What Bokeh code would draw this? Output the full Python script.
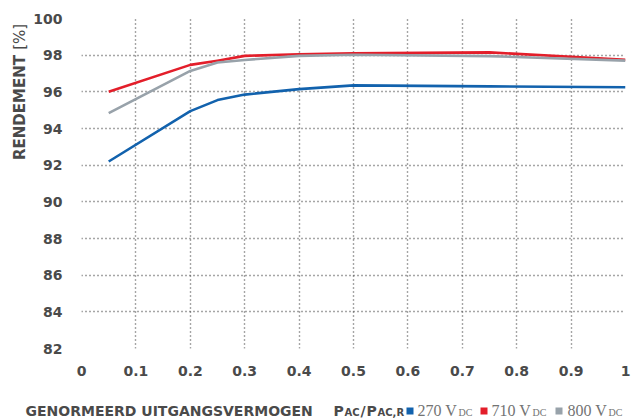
from math import pi
from bokeh.plotting import figure
from bokeh.models import FixedTicker, Range1d
from bokeh.layouts import column, row
from bokeh.core.properties import value
from bokeh.embed import file_html
from bokeh.resources import INLINE

# ---- data ----
load = [0.05, 0.2, 0.25, 0.3, 0.4, 0.5, 0.75, 1.0]
eff_270 = [92.2, 94.95, 95.55, 95.85, 96.15, 96.35, 96.3, 96.25]
eff_710 = [96.0, 97.47, 97.7, 97.96, 98.05, 98.1, 98.15, 97.75]
eff_800 = [94.84, 97.14, 97.6, 97.74, 97.96, 98.02, 97.95, 97.7]
x_ticks = [0, 0.1, 0.2, 0.3, 0.4, 0.5, 0.6, 0.7, 0.8, 0.9, 1]
x_tick_labels = ["0", "0.1", "0.2", "0.3", "0.4", "0.5", "0.6", "0.7", "0.8", "0.9", "1"]
y_ticks = [82, 84, 86, 88, 90, 92, 94, 96, 98, 100]
series_names = ["270 V", "710 V", "800 V"]
series_colors = ["#1262ad", "#e31e2a", "#98a2aa"]

SANS = "DejaVu Sans"
SERIF = "Liberation Serif"
DARK = "#4a4a4a"
GREY_TXT = "#737373"

# ---- overall geometry (pixels) ----
TOTAL_W, TOTAL_H = 632, 419
LEFT_W = 30
MAIN_W, MAIN_H = TOTAL_W - LEFT_W, 380
BOT_H = TOTAL_H - MAIN_H

# ---- main chart ----
p = figure(width=MAIN_W, height=MAIN_H, output_backend="svg", toolbar_location=None,
           x_range=Range1d(0, 1), y_range=Range1d(82, 100),
           min_border_left=47, min_border_right=7, min_border_top=18,
           min_border_bottom=32)
p.outline_line_color = None

for ax in (p.xaxis, p.yaxis):
    ax.axis_line_color = None
    ax.major_tick_line_color = None
    ax.minor_tick_line_color = None
    ax.major_label_text_font = SANS
    ax.major_label_text_font_style = "bold"
    ax.major_label_text_font_size = "14px"
    ax.major_label_text_color = DARK

p.xaxis.ticker = FixedTicker(ticks=x_ticks)
p.xaxis.major_label_overrides = {float(t): l for t, l in zip(x_ticks, x_tick_labels)}
p.xaxis.major_label_standoff = 11
p.yaxis.ticker = FixedTicker(ticks=y_ticks)
p.yaxis.major_label_standoff = 13

p.xgrid.ticker = FixedTicker(ticks=x_ticks)
p.ygrid.ticker = FixedTicker(ticks=y_ticks)
for g in (p.xgrid, p.ygrid):
    g.grid_line_color = "#4d4d4d"
    g.grid_line_dash = "1 3"
    g.grid_line_width = 1.4

p.line(load, eff_270, line_width=2.6, color=series_colors[0], line_join="round")
p.line(load, eff_710, line_width=2.6, color=series_colors[1], line_join="round")
p.line(load, eff_800, line_width=2.6, color=series_colors[2], line_join="round")


def blank(w, h):
    f = figure(width=w, height=h, output_backend="svg", toolbar_location=None,
               x_range=Range1d(0, w), y_range=Range1d(0, h),
               x_axis_type=None, y_axis_type=None,
               min_border=0, min_border_left=0, min_border_right=0,
               min_border_top=0, min_border_bottom=0)
    f.outline_line_color = None
    f.xgrid.visible = False
    f.ygrid.visible = False
    return f


def txt(f, h, text, x, cy, size, font=SANS, style="bold", color=DARK, angle=0,
        align="left", baseline="alphabetic"):
    f.text(x=[x], y=[h - cy], text=[text], text_font=value(font),
           text_font_style=style, text_font_size=value(f"{size}px"),
           text_color=color, angle=angle, text_align=align, text_baseline=baseline)


# ---- left strip: y-axis title ----
lf = blank(LEFT_W, MAIN_H)
txt(lf, MAIN_H, "RENDEMENT", 19, 42, 15, angle=pi / 2, align="right", baseline="middle")
txt(lf, MAIN_H, "[%]", 19, 36, 15, style="normal", angle=pi / 2, baseline="middle")

# ---- bottom strip: x-axis title + legend ----
bf = blank(TOTAL_W, BOT_H)
TOP = MAIN_H   # page y of the strip's top edge
BASE = 410 - TOP
SUB = 412 - TOP
SER = 409.5 - TOP
txt(bf, BOT_H, "GENORMEERD UITGANGSVERMOGEN", 25, BASE, 14)
txt(bf, BOT_H, "P", 333, BASE, 14)
txt(bf, BOT_H, "AC", 344, SUB, 10)
txt(bf, BOT_H, "/", 360, BASE, 14)
txt(bf, BOT_H, "P", 366, BASE, 14)
txt(bf, BOT_H, "AC,R", 377, SUB, 10)

sq_x = [406, 480, 555]
txt_x = [417, 491, 567]
sub_x = [458, 532, 608]
sq_top, sq_bot = 407, 414
bf.quad(left=sq_x, right=[s + 7 for s in sq_x],
        top=[BOT_H - (sq_top - TOP)] * 3, bottom=[BOT_H - (sq_bot - TOP)] * 3,
        fill_color=series_colors, line_color=None)
for name, tx, ux in zip(series_names, txt_x, sub_x):
    txt(bf, BOT_H, name, tx, SER, 16, font=SERIF, style="normal", color=GREY_TXT)
    txt(bf, BOT_H, "DC", ux, SUB, 10, font=SERIF, style="normal", color=GREY_TXT)

layout = column(row(lf, p, spacing=0), bf, spacing=0)
open("out.html", "w").write(file_html(layout, INLINE))
